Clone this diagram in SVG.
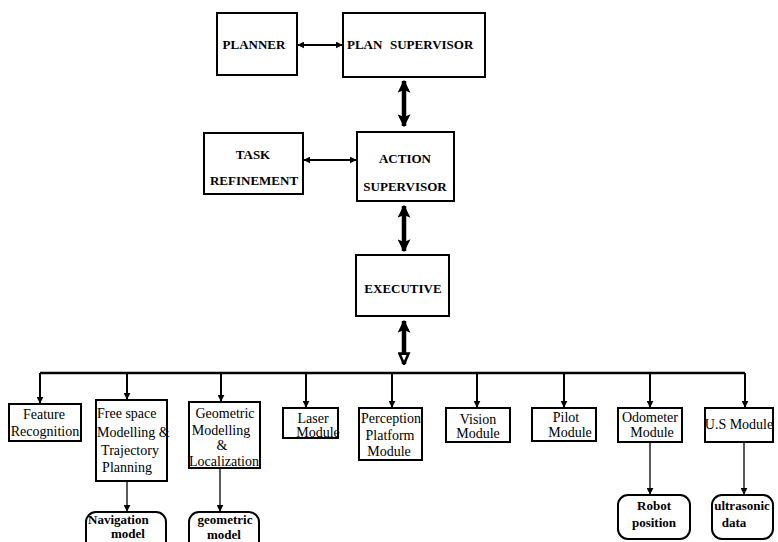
<svg xmlns="http://www.w3.org/2000/svg" width="778" height="542" viewBox="0 0 778 542">
  <style>
    .box { fill: #fff; stroke: #000; stroke-width: 2; }
    .rbox { fill: #fff; stroke: #000; stroke-width: 2; }
    .hd { font-family: "Liberation Serif", "Times New Roman", serif; font-weight: bold; font-size: 13px; fill: #000; }
    .md { font-family: "Liberation Serif", "Times New Roman", serif; font-size: 14px; fill: #000; }
    .bd { font-family: "Liberation Serif", "Times New Roman", serif; font-weight: bold; font-size: 13px; fill: #000; }
    .c { text-anchor: middle; }
    .thin { stroke: #000; stroke-width: 2; fill: none; }
    .fine { stroke: #000; stroke-width: 1.3; fill: none; }
    .thick { stroke: #000; stroke-width: 4.5; fill: none; }
    .bus { stroke: #000; stroke-width: 2.5; fill: none; }
  </style>
  <defs>
    <marker id="ah" viewBox="0 0 10 10" refX="9" refY="5" markerWidth="7" markerHeight="7" markerUnits="userSpaceOnUse" orient="auto-start-reverse">
      <path d="M0,0 L10,5 L0,10 z" fill="#000"/>
    </marker>
    <marker id="big" viewBox="0 0 10 10" refX="9" refY="5" markerWidth="13" markerHeight="13" markerUnits="userSpaceOnUse" orient="auto-start-reverse">
      <path d="M0,0 L10,5 L0,10 L2,5 z" fill="#000"/>
    </marker>
    <marker id="bigopen" viewBox="0 0 10 10" refX="9" refY="5" markerWidth="13" markerHeight="13" markerUnits="userSpaceOnUse" orient="auto">
      <path d="M1,1.5 L9,5 L1,8.5 z" fill="#fff" stroke="#000" stroke-width="2"/>
    </marker>
  </defs>

  <!-- connectors -->
  <g id="connectors">
    <line class="thin" x1="298" y1="45" x2="342" y2="45" marker-start="url(#ah)" marker-end="url(#ah)"/>
    <line class="thin" x1="304" y1="160" x2="356" y2="160" marker-start="url(#ah)" marker-end="url(#ah)"/>
    <line class="thick" x1="404" y1="81" x2="404" y2="126" marker-start="url(#big)" marker-end="url(#big)"/>
    <line class="thick" x1="404" y1="206" x2="404" y2="251" marker-start="url(#big)" marker-end="url(#big)"/>
    <line class="thick" x1="404" y1="321" x2="404" y2="364" marker-start="url(#big)" marker-end="url(#bigopen)"/>
    <!-- bus -->
    <line class="bus" x1="40" y1="373" x2="745" y2="373"/>
    <line class="thin" x1="40" y1="373" x2="40" y2="403" marker-end="url(#ah)"/>
    <line class="thin" x1="127" y1="373" x2="127" y2="399" marker-end="url(#ah)"/>
    <line class="thin" x1="221" y1="373" x2="221" y2="401" marker-end="url(#ah)"/>
    <line class="thin" x1="306" y1="373" x2="306" y2="407" marker-end="url(#ah)"/>
    <line class="thin" x1="392" y1="373" x2="392" y2="407" marker-end="url(#ah)"/>
    <line class="thin" x1="477" y1="373" x2="477" y2="407" marker-end="url(#ah)"/>
    <line class="thin" x1="564" y1="373" x2="564" y2="407" marker-end="url(#ah)"/>
    <line class="thin" x1="650" y1="373" x2="650" y2="407" marker-end="url(#ah)"/>
    <line class="thin" x1="745" y1="373" x2="745" y2="407" marker-end="url(#ah)"/>
    <!-- outputs -->
    <line class="fine" x1="127" y1="482" x2="127" y2="511" marker-end="url(#ah)"/>
    <line class="fine" x1="220" y1="469" x2="220" y2="511" marker-end="url(#ah)"/>
    <line class="fine" x1="650" y1="443" x2="650" y2="494" marker-end="url(#ah)"/>
    <line class="fine" x1="744" y1="443" x2="744" y2="494" marker-end="url(#ah)"/>
  </g>

  <!-- upper hierarchy -->
  <g id="planner">
    <rect class="box" x="217" y="13" width="80" height="62"/>
    <text class="hd c" x="254" y="49">PLANNER</text>
  </g>
  <g id="plan-supervisor">
    <rect class="box" x="343" y="13" width="142" height="64"/>
    <text class="hd" y="49"><tspan x="347">PLAN</tspan><tspan x="390">SUPERVISOR</tspan></text>
  </g>
  <g id="task-refinement">
    <rect class="box" x="204" y="133" width="99" height="61"/>
    <text class="hd c" x="253" y="159">TASK</text>
    <text class="hd c" x="254" y="185">REFINEMENT</text>
  </g>
  <g id="action-supervisor">
    <rect class="box" x="357" y="132" width="97" height="69"/>
    <text class="hd c" x="405" y="163">ACTION</text>
    <text class="hd c" x="405" y="191">SUPERVISOR</text>
  </g>
  <g id="executive">
    <rect class="box" x="356" y="255" width="93" height="61"/>
    <text class="hd c" x="403" y="293">EXECUTIVE</text>
  </g>

  <!-- modules -->
  <g id="feature-recognition">
    <rect class="box" x="9" y="404" width="72" height="37"/>
    <text class="md c" x="44" y="419">Feature</text>
    <text class="md c" x="45" y="436">Recognition</text>
  </g>
  <g id="free-space">
    <rect class="box" x="96" y="400" width="71" height="81"/>
    <text class="md" x="97" y="418">Free space</text>
    <text class="md" x="97" y="437">Modelling &amp;</text>
    <text class="md c" x="130" y="455">Trajectory</text>
    <text class="md c" x="127" y="472">Planning</text>
  </g>
  <g id="geometric-modelling">
    <rect class="box" x="189" y="402" width="71" height="66"/>
    <text class="md c" x="225" y="418">Geometric</text>
    <text class="md c" x="221" y="435">Modelling</text>
    <text class="md c" x="222" y="450" font-size="11">&amp;</text>
    <text class="md c" x="224" y="466">Localization</text>
  </g>
  <g id="laser-module">
    <rect class="box" x="283" y="408" width="55" height="30"/>
    <text class="md c" x="313" y="423">Laser</text>
    <text class="md c" x="318" y="437">Module</text>
  </g>
  <g id="perception-platform">
    <rect class="box" x="359" y="408" width="63" height="52"/>
    <text class="md c" x="391" y="423">Perception</text>
    <text class="md c" x="390" y="440">Platform</text>
    <text class="md c" x="389" y="456">Module</text>
  </g>
  <g id="vision-module">
    <rect class="box" x="446" y="408" width="64" height="34"/>
    <text class="md c" x="478" y="424">Vision</text>
    <text class="md c" x="478" y="438">Module</text>
  </g>
  <g id="pilot-module">
    <rect class="box" x="532" y="408" width="64" height="33"/>
    <text class="md c" x="566" y="422">Pilot</text>
    <text class="md c" x="570" y="437">Module</text>
  </g>
  <g id="odometer-module">
    <rect class="box" x="618" y="408" width="64" height="34"/>
    <text class="md c" x="650" y="422">Odometer</text>
    <text class="md c" x="652" y="437">Module</text>
  </g>
  <g id="us-module">
    <rect class="box" x="705" y="408" width="68" height="34"/>
    <text class="md c" x="739" y="429">U.S Module</text>
  </g>

  <!-- data outputs -->
  <g id="navigation-model">
    <rect class="rbox" x="86" y="512" width="80" height="40" rx="10"/>
    <text class="bd" x="88" y="524">Navigation</text>
    <text class="bd c" x="128" y="538">model</text>
  </g>
  <g id="geometric-model">
    <rect class="rbox" x="189" y="512" width="70" height="40" rx="10"/>
    <text class="bd c" x="225" y="524">geometric</text>
    <text class="bd c" x="224" y="539">model</text>
  </g>
  <g id="robot-position">
    <rect class="rbox" x="618" y="495" width="72" height="44" rx="10"/>
    <text class="bd c" x="654" y="510">Robot</text>
    <text class="bd c" x="654" y="527">position</text>
  </g>
  <g id="ultrasonic-data">
    <rect class="rbox" x="712" y="495" width="61" height="44" rx="10"/>
    <text class="bd c" x="742" y="510">ultrasonic</text>
    <text class="bd c" x="734" y="527">data</text>
  </g>
</svg>
